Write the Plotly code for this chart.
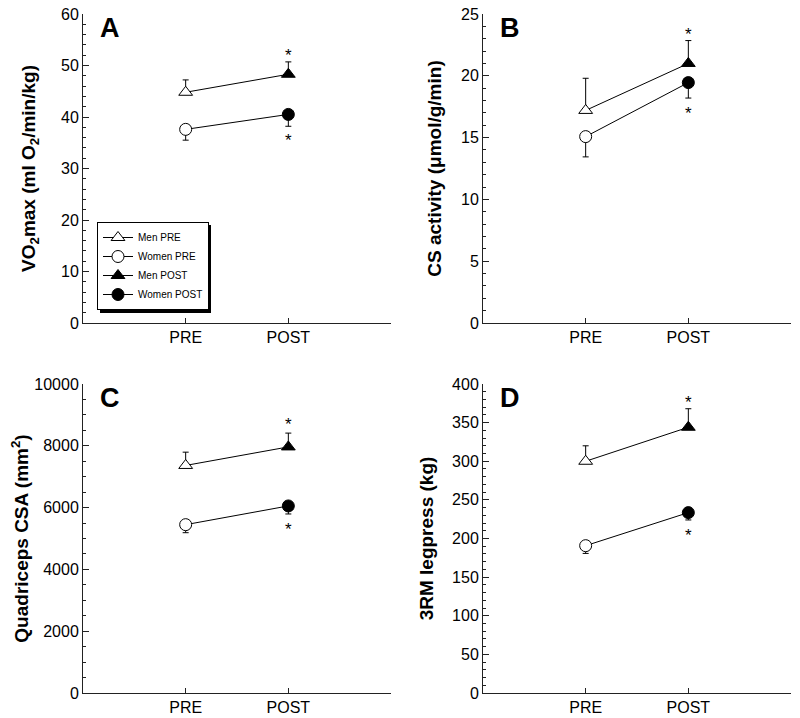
import plotly.graph_objects as go

# ---------------- data ----------------
phase_labels = ["PRE", "POST"]
phase_pos = [1, 2]

# Panel A: VO2max (ml O2/min/kg)
a_men = [44.8, 48.3]
a_men_err = [2.4, 2.4]
a_women = [37.6, 40.5]
a_women_err = [2.1, 2.3]
a_stars = [52.8, 36.2]

# Panel B: CS activity (umol/g/min)
b_men = [17.2, 21.0]
b_men_err = [2.6, 1.85]
b_women = [15.08, 19.45]
b_women_err = [1.64, 1.25]
b_stars = [23.64, 17.28]

# Panel C: Quadriceps CSA (mm2)
c_men = [7364, 7964]
c_men_err = [430, 447]
c_women = [5448, 6054]
c_women_err = [260, 260]
c_stars = [8810, 5415]

# Panel D: 3RM legpress (kg)
d_men = [300, 344]
d_men_err = [20, 24]
d_women = [190.7, 233.5]
d_women_err = [10, 9.5]
d_stars = [381.8, 208.8]

y_titles = [
    "VO<sub>2</sub>max (ml O<sub>2</sub>/min/kg)",
    "CS activity (μmol/g/min)",
    "Quadriceps CSA (mm<sup>2</sup>)",
    "3RM legpress (kg)",
]
y_ranges = [[0, 60], [0, 25], [0, 10000], [0, 400]]
y_major = [10, 5, 2000, 50]
y_minor = [2, 1, 500, 10]
panel_letters = ["A", "B", "C", "D"]

# ---------------- layout geometry ----------------
W, H = 800, 718
FONT = "Liberation Sans, Arial, Helvetica, sans-serif"
x_doms = [[83 / W, 391 / W], [483 / W, 791 / W], [83 / W, 391 / W], [483 / W, 791 / W]]
y_top = [1 - 323 / H, 1 - 14 / H]
y_bot = [1 - 693 / H, 1 - 384 / H]
y_doms = [y_top, y_top, y_bot, y_bot]
standoffs = [20, 14, 0, 13]

panels = [
    (a_men, a_men_err, a_women, a_women_err, a_stars),
    (b_men, b_men_err, b_women, b_women_err, b_stars),
    (c_men, c_men_err, c_women, c_women_err, c_stars),
    (d_men, d_men_err, d_women, d_women_err, d_stars),
]

fig = go.Figure()
annotations = []
layout_axes = {}

for i, (men, men_err, women, women_err, stars) in enumerate(panels):
    s = "" if i == 0 else str(i + 1)
    xa, ya = "x" + s, "y" + s
    show = i == 0
    line = dict(color="black", width=1)
    # connecting lines
    fig.add_trace(go.Scatter(x=phase_pos, y=men, mode="lines", line=line,
                             showlegend=False, hoverinfo="skip", xaxis=xa, yaxis=ya))
    fig.add_trace(go.Scatter(x=phase_pos, y=women, mode="lines", line=line,
                             showlegend=False, hoverinfo="skip", xaxis=xa, yaxis=ya))
    specs = [
        ("Men PRE", 0, men, men_err, "triangle-up", "white", True),
        ("Women PRE", 0, women, women_err, "circle", "white", False),
        ("Men POST", 1, men, men_err, "triangle-up", "black", True),
        ("Women POST", 1, women, women_err, "circle", "black", False),
    ]
    for name, k, vals, errs, sym, fill, up in specs:
        fig.add_trace(go.Scatter(
            x=[phase_pos[k]], y=[vals[k]], mode="lines+markers", name=name,
            legendgroup=name, showlegend=show, line=line,
            marker=dict(symbol=sym, size=12, color=fill, line=dict(color="black", width=1)),
            error_y=dict(type="data", symmetric=False,
                         array=[errs[k] if up else 0], arrayminus=[0 if up else errs[k]],
                         color="black", thickness=1, width=3),
            xaxis=xa, yaxis=ya))
    # asterisks
    for sv in stars:
        annotations.append(dict(x=phase_pos[1], y=sv, xref=xa, yref=ya, text="*",
                                showarrow=False, font=dict(family=FONT, size=17, color="black"),
                                yshift=-4))
    # panel letter
    annotations.append(dict(x=0.05, y=1.01, xref=xa + " domain", yref=ya + " domain",
                            text="<b>%s</b>" % panel_letters[i], showarrow=False,
                            xanchor="left", yanchor="top",
                            font=dict(family=FONT, size=27, color="black")))
    layout_axes["xaxis" + s] = dict(
        domain=x_doms[i], anchor=ya, range=[0, 3], showgrid=False, zeroline=False,
        showline=True, linecolor="#222", linewidth=1, automargin=False,
        tickmode="array", tickvals=phase_pos, ticktext=phase_labels,
        ticks="inside", ticklen=5, tickcolor="#222",
        minor=dict(tick0=0, dtick=1, ticks="inside", ticklen=5, tickcolor="#222"),
        tickfont=dict(family=FONT, size=16, color="black"), fixedrange=True)
    layout_axes["yaxis" + s] = dict(
        domain=y_doms[i], anchor=xa, range=y_ranges[i], showgrid=False, zeroline=False,
        showline=True, linecolor="#222", linewidth=1, automargin=False,
        dtick=y_major[i], tick0=0, tickformat="d", ticks="inside", ticklen=6, tickcolor="#222",
        minor=dict(dtick=y_minor[i], tick0=0, ticks="inside", ticklen=3, tickcolor="#222"),
        tickfont=dict(family=FONT, size=16, color="black"),
        title=dict(text=y_titles[i], standoff=standoffs[i],
                   font=dict(family=FONT, size=19, color="black", weight="bold")),
        fixedrange=True)

# legend box (pixel estimates) and its drop shadow
leg_left, leg_top, leg_w, leg_h = 97, 222, 111, 88
shapes = [dict(type="rect", xref="paper", yref="paper",
               x0=(leg_left + 3) / W, x1=(leg_left + leg_w + 3) / W,
               y0=1 - (leg_top + leg_h + 3) / H, y1=1 - (leg_top + 3) / H,
               fillcolor="black", line=dict(width=0), layer="above")]

fig.update_layout(
    template="none",
    width=W, height=H, margin=dict(l=0, r=0, t=0, b=0, pad=0, autoexpand=False),
    paper_bgcolor="white", plot_bgcolor="white",
    showlegend=True,
    legend=dict(x=leg_left / W, y=1 - leg_top / H, xanchor="left", yanchor="top",
                bgcolor="white", bordercolor="black", borderwidth=1,
                font=dict(family=FONT, size=10, color="black"),
                tracegroupgap=0),
    annotations=annotations,
    shapes=shapes,
    **layout_axes,
)

fig.write_html(
    "out.html",
    config={"displayModeBar": False},
    post_script="document.body.style.margin='0px';document.body.style.overflow='hidden';",
)
